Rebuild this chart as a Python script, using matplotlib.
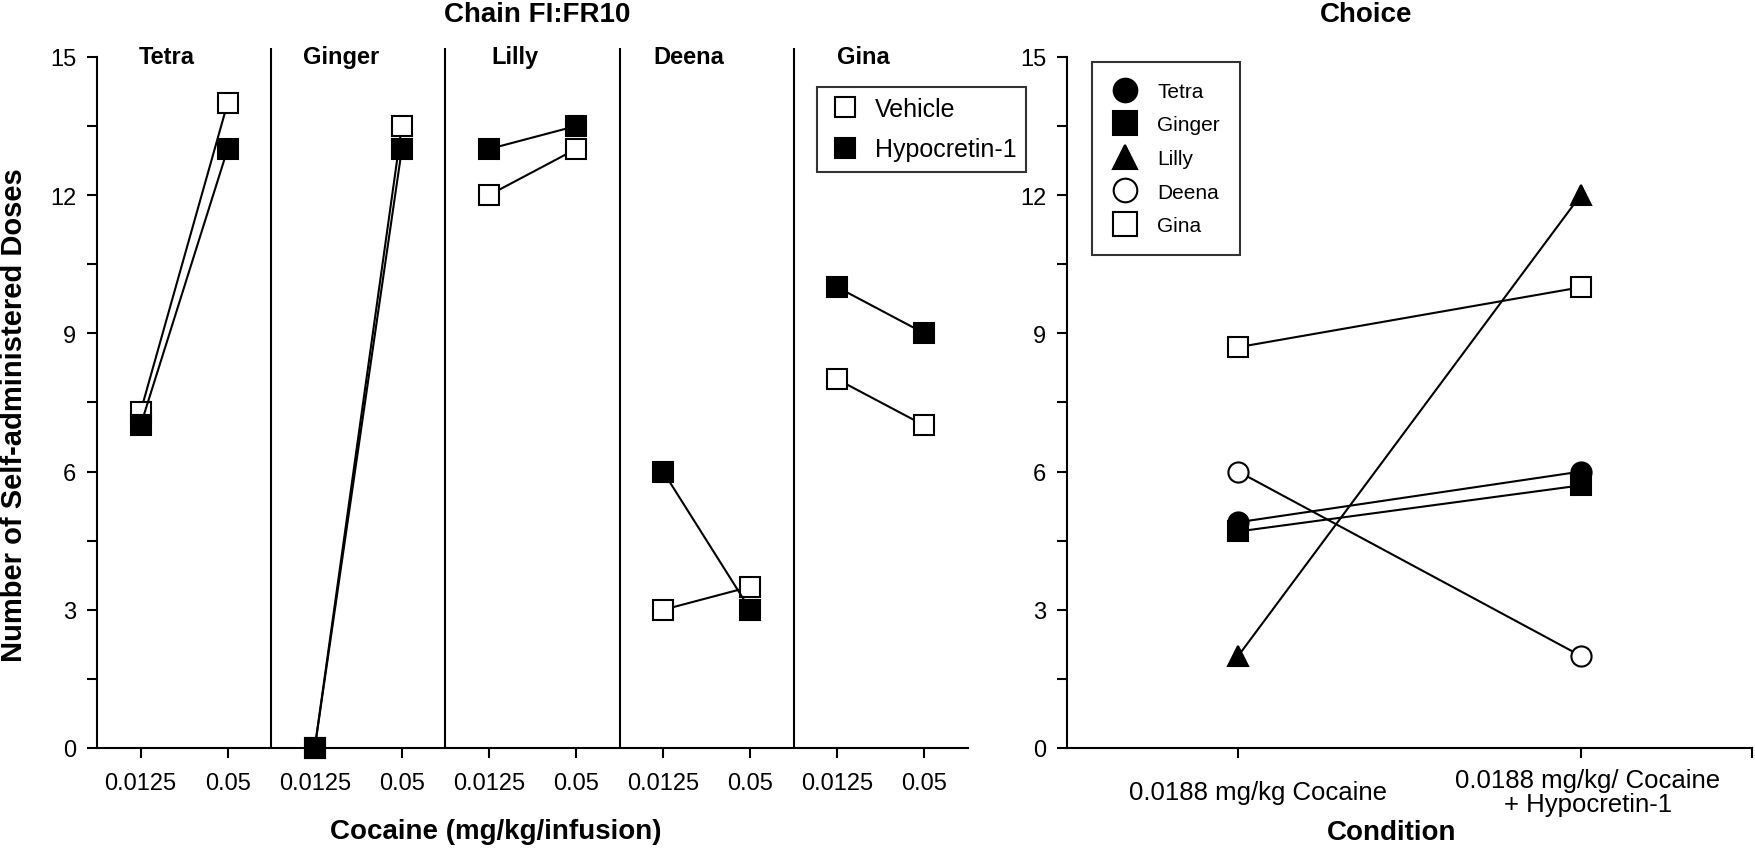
import matplotlib

matplotlib.use("Agg")
import matplotlib.pyplot as plt
from matplotlib.lines import Line2D
from matplotlib.ticker import FixedLocator
from matplotlib.transforms import ScaledTranslation

plt.rcParams["font.family"] = ["Liberation Sans", "DejaVu Sans"]

W, H = 1755, 854

# chain FI:FR10 panel
monkeys = ["Tetra", "Ginger", "Lilly", "Deena", "Gina"]
doses = ["0.0125", "0.05"]
vehicle = [[7.3, 14.0], [0.0, 13.5], [12.0, 13.0], [3.0, 3.5], [8.0, 7.0]]
hypocretin = [[7.0, 13.0], [0.0, 13.0], [13.0, 13.5], [6.0, 3.0], [10.0, 9.0]]

# choice panel
conditions = ["0.0188 mg/kg Cocaine", "0.0188 mg/kg/ Cocaine\n+ Hypocretin-1"]
choice_doses = [[4.9, 6.0], [4.7, 5.7], [2.0, 12.0], [6.0, 2.0], [8.7, 10.0]]

y_ticks = [0, 3, 6, 9, 12, 15]
y_minor = [1.5, 4.5, 7.5, 10.5, 13.5]

choice_markers = ["o", "s", "^", "o", "s"]
choice_fills = ["black", "black", "black", "white", "white"]


def px_axes(fig, left, right, top, bottom):
    return fig.add_axes([left / W, 1 - bottom / H, (right - left) / W, (bottom - top) / H])


def style_axes(ax):
    ax.set_ylim(0, 15.2)
    ax.set_yticks(y_ticks)
    ax.yaxis.set_minor_locator(FixedLocator(y_minor))
    ax.spines[["top", "right"]].set_visible(False)
    ax.spines["left"].set_bounds(0, 15)
    for side in ("left", "bottom"):
        ax.spines[side].set_linewidth(1.5)
    ax.tick_params(which="both", direction="out", length=7, width=1.5, color="black")
    ax.tick_params(axis="y", labelsize=17, pad=8)


def frame(leg):
    leg.get_frame().set_edgecolor("black")
    leg.get_frame().set_linewidth(1.5)


fig = plt.figure(figsize=(W / 100, H / 100), dpi=100)

# left panel
ax = px_axes(fig, 97, 968, 48.7, 749)
style_axes(ax)
ax.set_xlim(0.5, 10.5)
for i, name in enumerate(monkeys):
    xs = [2 * i + 1, 2 * i + 2]
    ax.plot(xs, vehicle[i], color="black", lw=1.5, marker="s", ms=14.5,
            mfc="white", mec="black", mew=1.5, clip_on=False, zorder=3)
    ax.plot(xs, hypocretin[i], color="black", lw=1.5, marker="s", ms=14.5,
            mfc="black", mec="black", mew=1.5, clip_on=False, zorder=4)
    ax.text(2 * i + 1.3, 15.0, name, ha="center", va="center", fontsize=17, fontweight="bold")
    if i < len(monkeys) - 1:
        ax.axvline(2 * i + 2.5, color="black", lw=1.5)
ax.set_xticks(range(1, 2 * len(monkeys) + 1))
ax.set_xticklabels(doses * len(monkeys))
ax.tick_params(axis="x", labelsize=17, pad=10.5)

handles = [
    Line2D([], [], ls="none", marker="s", ms=15, mfc="white", mec="black", mew=1.5),
    Line2D([], [], ls="none", marker="s", ms=15, mfc="black", mec="black", mew=1.5),
]
leg = ax.legend(handles, ["Vehicle", "Hypocretin-1"], loc="upper left",
                bbox_to_anchor=(817 / W, 1 - 88 / H), bbox_transform=fig.transFigure,
                fontsize=18, fancybox=False, borderpad=0.4, labelspacing=0.66,
                handlelength=1.46, handletextpad=0.45, borderaxespad=0)
frame(leg)

# right panel
ax2 = px_axes(fig, 1067, 1752, 48.7, 749)
style_axes(ax2)
ax2.set_xlim(-0.5, 1.5)
for vals, mk, fill in zip(choice_doses, choice_markers, choice_fills):
    ax2.plot([0, 1], vals, color="black", lw=1.5, marker=mk, ms=14.5,
             mfc=fill, mec="black", mew=1.5, clip_on=False)
ax2.set_xticks([0, 1])
ax2.set_xticklabels(conditions, linespacing=1.0)
ax2.xaxis.set_minor_locator(FixedLocator([1.5]))
ax2.tick_params(axis="x", labelsize=18.5, pad=25)
for lbl, shift in zip(ax2.get_xticklabels(), [20, 7]):
    lbl.set_va("center")
    lbl.set_transform(lbl.get_transform() + ScaledTranslation(shift / 100, 0, fig.dpi_scale_trans))

handles2 = [
    Line2D([], [], ls="none", marker=mk, ms=17, mfc=fill, mec="black", mew=1.5)
    for mk, fill in zip(choice_markers, choice_fills)
]
leg2 = ax2.legend(handles2, monkeys, loc="upper left",
                  bbox_to_anchor=(1092 / W, 1 - 63 / H), bbox_transform=fig.transFigure,
                  fontsize=15, fancybox=False, borderpad=0.95, labelspacing=0.7,
                  handlelength=1.29, handletextpad=0.9, borderaxespad=0)
frame(leg2)

# titles and axis labels
bold = dict(ha="center", va="center", fontsize=20, fontweight="bold")
fig.text(537 / W, 1 - 15 / H, "Chain FI:FR10", **bold)
fig.text(1366 / W, 1 - 15 / H, "Choice", **bold)
fig.text(496 / W, 1 - 832 / H, "Cocaine (mg/kg/infusion)", **bold)
fig.text(1392 / W, 1 - 833 / H, "Condition", **bold)
fig.text(14 / W, 1 - 415 / H, "Number of Self-administered Doses", rotation=90,
         **{**bold, "fontsize": 21})

fig.savefig("out.png", dpi=100)
